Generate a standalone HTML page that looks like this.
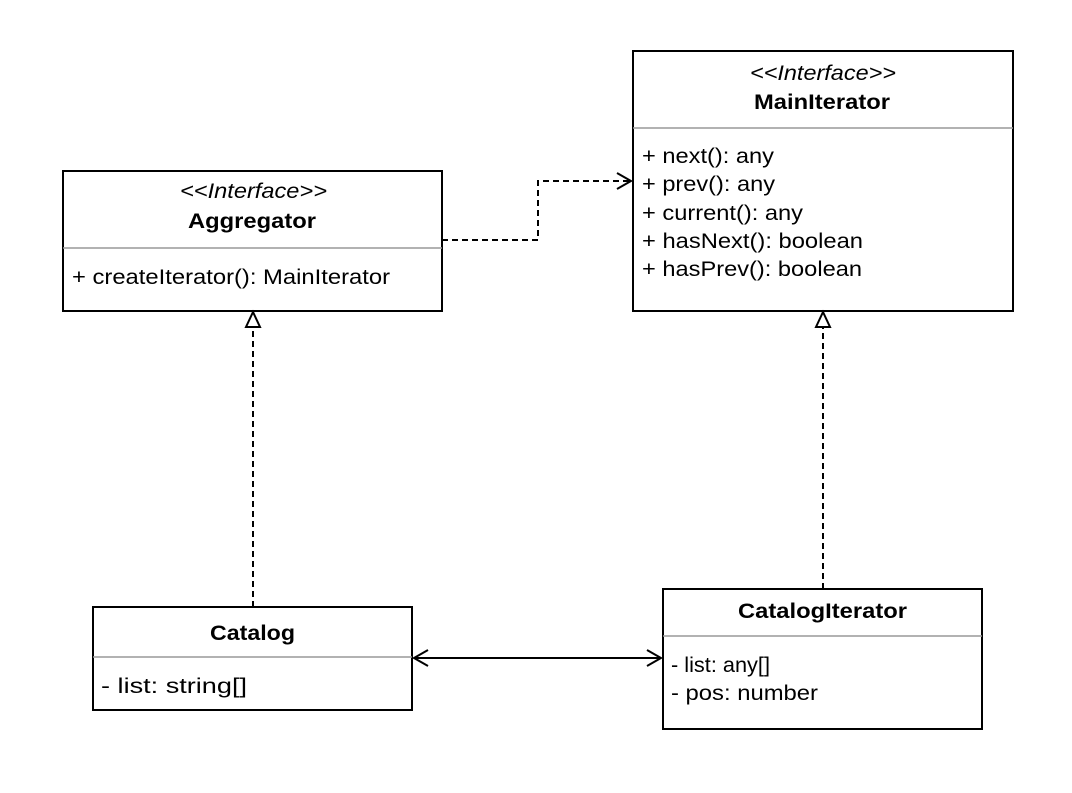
<!DOCTYPE html>
<html><head><style>body{margin:0;background:#fff}</style></head><body>
<svg width="1072" height="788" xmlns="http://www.w3.org/2000/svg" font-family="Liberation Sans, Arial, sans-serif" font-size="21">
<rect width="1072" height="788" fill="#fff"/>
<g fill="#fff" stroke="#000" stroke-width="2">
<rect x="63" y="171" width="379" height="140"/>
<rect x="633" y="51" width="380" height="260"/>
<rect x="93" y="607" width="319" height="103"/>
<rect x="663" y="589" width="319" height="140"/>
</g>
<g stroke="#999" stroke-width="1.5">
<line x1="63" y1="248" x2="442" y2="248"/>
<line x1="633" y1="128" x2="1013" y2="128"/>
<line x1="93" y1="657" x2="412" y2="657"/>
<line x1="663" y1="636" x2="982" y2="636"/>
</g>
<g fill="none" stroke="#000" stroke-width="2">
<polyline points="442,240 538,240 538,181 631,181" stroke-dasharray="6,4"/>
<polyline points="617,173 631,181 617,189"/>
<line x1="253" y1="607" x2="253" y2="326" stroke-dasharray="6,4"/>
<polygon points="253,312 246,327 260,327" fill="#fff"/>
<line x1="823" y1="589" x2="823" y2="326" stroke-dasharray="6,4"/>
<polygon points="823,312 816,327 830,327" fill="#fff"/>
<line x1="414" y1="658" x2="661" y2="658"/>
<polyline points="428,650 414,658 428,666"/>
<polyline points="647,650 661,658 647,666"/>
</g>
<g fill="#000">
<text x="180" y="198" font-style="italic" textLength="147" lengthAdjust="spacingAndGlyphs">&lt;&lt;Interface&gt;&gt;</text>
<text x="188" y="228" font-weight="bold" textLength="128" lengthAdjust="spacingAndGlyphs">Aggregator</text>
<text x="72" y="284" textLength="318" lengthAdjust="spacingAndGlyphs">+ createIterator(): MainIterator</text>
<text x="750" y="80" font-style="italic" textLength="146" lengthAdjust="spacingAndGlyphs">&lt;&lt;Interface&gt;&gt;</text>
<text x="754" y="109" font-weight="bold" textLength="136" lengthAdjust="spacingAndGlyphs">MainIterator</text>
<text x="642" y="163" textLength="132" lengthAdjust="spacingAndGlyphs">+ next(): any</text>
<text x="642" y="191" textLength="133" lengthAdjust="spacingAndGlyphs">+ prev(): any</text>
<text x="642" y="220" textLength="161" lengthAdjust="spacingAndGlyphs">+ current(): any</text>
<text x="642" y="248" textLength="221" lengthAdjust="spacingAndGlyphs">+ hasNext(): boolean</text>
<text x="642" y="276" textLength="220" lengthAdjust="spacingAndGlyphs">+ hasPrev(): boolean</text>
<text x="210" y="640" font-weight="bold" textLength="85" lengthAdjust="spacingAndGlyphs">Catalog</text>
<text x="101" y="693" textLength="146" lengthAdjust="spacingAndGlyphs">- list: string[]</text>
<text x="738" y="618" font-weight="bold" textLength="169" lengthAdjust="spacingAndGlyphs">CatalogIterator</text>
<text x="671" y="672" textLength="99" lengthAdjust="spacingAndGlyphs">- list: any[]</text>
<text x="671" y="700" textLength="147" lengthAdjust="spacingAndGlyphs">- pos: number</text>
</g>
</svg>
</body></html>
